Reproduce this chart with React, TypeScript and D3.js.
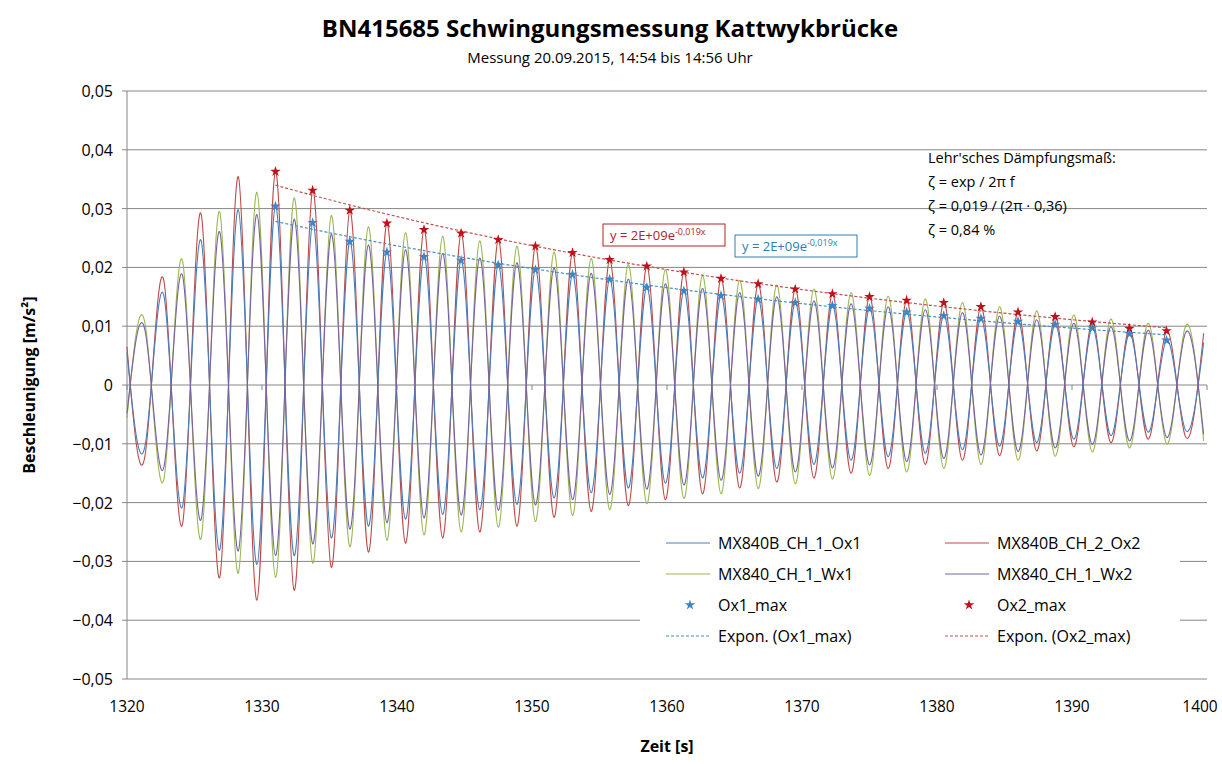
import React, { useRef, useEffect } from 'react';
import * as d3 from 'd3';

// extrema of each channel, one every half period (1.375 s) starting at 1320 s
const halfPeriod = 1.375;
const startTime = 1320;
const ox2Extrema = [0.0065, -0.0114, 0.0175, -0.0235, 0.029, -0.0327, 0.0354, -0.0366, 0.0363, -0.0349,
  0.0331, -0.031, 0.0297, -0.0284, 0.0275, -0.0269, 0.0264, -0.026, 0.0258, -0.025,
  0.0247, -0.024, 0.0236, -0.0225, 0.0225, -0.0215, 0.0213, -0.0205, 0.0202, -0.0195,
  0.0192, -0.0185, 0.0181, -0.0175, 0.0172, -0.0165, 0.0163, -0.0158, 0.0155, -0.015,
  0.015, -0.0142, 0.0144, -0.0135, 0.014, -0.0128, 0.0133, -0.012, 0.0124, -0.0112,
  0.0116, -0.0105, 0.0107, -0.0098, 0.0096, -0.0092, 0.0092, -0.0086, 0.0088];
const ox1Extrema = [0.0055, -0.0098, 0.015, -0.0205, 0.0245, -0.028, 0.0298, -0.0305, 0.0304, -0.029,
  0.0276, -0.026, 0.0244, -0.024, 0.0226, -0.0228, 0.0218, -0.022, 0.0212, -0.0212,
  0.0204, -0.0203, 0.0196, -0.0192, 0.0188, -0.0183, 0.018, -0.0175, 0.0166, -0.0167,
  0.016, -0.0158, 0.0152, -0.015, 0.0146, -0.0142, 0.014, -0.0135, 0.0135, -0.0128,
  0.013, -0.0122, 0.0124, -0.0116, 0.0118, -0.011, 0.0113, -0.0104, 0.0108, -0.0098,
  0.0103, -0.0092, 0.0097, -0.0086, 0.0087, -0.008, 0.0076, -0.0075, 0.0072];
const wx1Extrema = [-0.0056, 0.0099, -0.0158, 0.021, -0.026, 0.0294, -0.032, 0.0328, -0.0327, 0.0318,
  -0.0303, 0.0288, -0.0275, 0.0269, -0.0264, 0.0259, -0.0255, 0.0253, -0.025, 0.0245,
  -0.0242, 0.0236, -0.0232, 0.0226, -0.0222, 0.0215, -0.0212, 0.0205, -0.0202, 0.0196,
  -0.0193, 0.0186, -0.0185, 0.0178, -0.0176, 0.017, -0.0168, 0.0163, -0.016, 0.0157,
  -0.0154, 0.0151, -0.0148, 0.0146, -0.0142, 0.014, -0.0135, 0.0133, -0.0128, 0.0126,
  -0.0121, 0.0119, -0.0114, 0.0112, -0.0107, 0.0105, -0.01, 0.0098, -0.0095];
const wx2Extrema = [-0.0048, 0.0088, -0.0138, 0.0185, -0.0228, 0.026, -0.0282, 0.029, -0.029, 0.0282,
  -0.027, 0.0256, -0.0245, 0.0238, -0.0234, 0.023, -0.0226, 0.0224, -0.0221, 0.0216,
  -0.0213, 0.0208, -0.0204, 0.0199, -0.0195, 0.019, -0.0186, 0.018, -0.0177, 0.0172,
  -0.017, 0.0164, -0.0162, 0.0157, -0.0155, 0.015, -0.0148, 0.0143, -0.0141, 0.0138,
  -0.0136, 0.0133, -0.013, 0.0128, -0.0125, 0.0123, -0.0119, 0.0117, -0.0113, 0.0111,
  -0.0107, 0.0105, -0.0101, 0.0099, -0.0095, 0.0093, -0.0089, 0.0087, -0.0084];

// scatter series of maxima
const maxTimes = [1331.0, 1333.75, 1336.5, 1339.25, 1342.0, 1344.75, 1347.5, 1350.25, 1353.0, 1355.75,
  1358.5, 1361.25, 1364.0, 1366.75, 1369.5, 1372.25, 1375.0, 1377.75, 1380.5, 1383.25,
  1386.0, 1388.75, 1391.5, 1394.25, 1397.0];
const ox2Max = [0.0363, 0.0331, 0.0297, 0.0275, 0.0264, 0.0258, 0.0247, 0.0236, 0.0225, 0.0213,
  0.0202, 0.0192, 0.0181, 0.0172, 0.0163, 0.0155, 0.015, 0.0144, 0.014, 0.0133,
  0.0124, 0.0116, 0.0107, 0.0096, 0.0092];
const ox1Max = [0.0304, 0.0276, 0.0244, 0.0226, 0.0218, 0.0212, 0.0204, 0.0196, 0.0188, 0.018,
  0.0166, 0.016, 0.0152, 0.0146, 0.014, 0.0135, 0.013, 0.0124, 0.0118, 0.0113,
  0.0108, 0.0103, 0.0097, 0.0087, 0.0076];

const yTicks = [0.05, 0.04, 0.03, 0.02, 0.01, 0, -0.01, -0.02, -0.03, -0.04, -0.05];
const xTicks = [1320, 1330, 1340, 1350, 1360, 1370, 1380, 1390, 1400];

const colors = { ox1: '#4a7ebb', ox2: '#be4b48', wx1: '#98b954', wx2: '#7d60a0' };
const font = "'Open Sans', 'DejaVu Sans', sans-serif";

const App: React.FC = () => {
  const svgRef = useRef<SVGSVGElement | null>(null);
  const width = 1222, height = 764;

  useEffect(() => {
    if (!svgRef.current) return;
    const svg = d3.select(svgRef.current);
    svg.selectAll('*').remove();

    const x = d3.scaleLinear().domain([1320, 1400]).range([127, 1207]);
    const y = d3.scaleLinear().domain([-0.05, 0.05]).range([679, 91]);
    const fmt = (v: number) => (v === 0 ? '0' : d3.format('.2f')(v).replace('.', ','));

    svg.append('rect').attr('width', width).attr('height', height).attr('fill', 'white');

    // gridlines
    svg.append('g').selectAll('line').data(yTicks).join('line')
      .attr('x1', 127).attr('x2', 1207).attr('y1', d => y(d)).attr('y2', d => y(d))
      .attr('stroke', '#868686').attr('stroke-width', 1);
    svg.append('line').attr('x1', 127).attr('x2', 127).attr('y1', 91).attr('y2', 679)
      .attr('stroke', '#868686');

    // y axis ticks and labels
    svg.append('g').selectAll('line').data(yTicks).join('line')
      .attr('x1', 122).attr('x2', 127).attr('y1', d => y(d)).attr('y2', d => y(d)).attr('stroke', '#868686');
    svg.append('g').selectAll('text').data(yTicks).join('text')
      .attr('x', 113).attr('y', d => y(d) + 6).attr('text-anchor', 'end')
      .attr('font-family', font).attr('font-size', 16).text(d => fmt(d));

    // x axis ticks at the zero line, labels at the bottom
    svg.append('g').selectAll('line').data(xTicks).join('line')
      .attr('x1', d => x(d)).attr('x2', d => x(d)).attr('y1', y(0)).attr('y2', y(0) + 5).attr('stroke', '#868686');
    svg.append('g').selectAll('text').data(xTicks).join('text')
      .attr('x', d => Math.min(x(d), 1200)).attr('y', 712).attr('text-anchor', 'middle')
      .attr('font-family', font).attr('font-size', 15.5).text(d => String(d));

    // waveforms
    const line = d3.line<number>()
      .x((_, i) => x(Math.min(1400, startTime + i * halfPeriod)))
      .y(d => y(d))
      .curve(d3.curveNatural);
    const series: [number[], string][] = [
      [wx1Extrema, colors.wx1], [ox2Extrema, colors.ox2], [ox1Extrema, colors.ox1], [wx2Extrema, colors.wx2],
    ];
    series.forEach(([data, c]) => {
      svg.append('path').attr('d', line(data)).attr('fill', 'none')
        .attr('stroke', c).attr('stroke-width', 1.1);
    });

    // exponential trendlines (log-linear regression)
    const expFit = (vals: number[]) => {
      const mx = d3.mean(maxTimes)!;
      const ly = vals.map(Math.log);
      const my = d3.mean(ly)!;
      const b = d3.sum(maxTimes, (t, i) => (t - mx) * (ly[i] - my)) / d3.sum(maxTimes, t => (t - mx) ** 2);
      const a = my - b * mx;
      return (t: number) => Math.exp(a + b * t);
    };
    const trend = (vals: number[], c: string) => {
      const f = expFit(vals);
      const ts = d3.range(maxTimes[0], maxTimes[maxTimes.length - 1] + 0.01, 0.5);
      svg.append('path')
        .attr('d', d3.line<number>().x(t => x(t)).y(t => y(f(t)))(ts))
        .attr('fill', 'none').attr('stroke', c).attr('stroke-width', 1.2).attr('stroke-dasharray', '3,2');
    };
    trend(ox2Max, '#c0504d');
    trend(ox1Max, '#4a8fc4');

    const star = d3.symbol().type(d3.symbolStar).size(34);
    svg.append('g').selectAll('path').data(ox2Max).join('path')
      .attr('d', star).attr('transform', (d, i) => `translate(${x(maxTimes[i])},${y(d)})`).attr('fill', '#c0101a');
    svg.append('g').selectAll('path').data(ox1Max).join('path')
      .attr('d', star).attr('transform', (d, i) => `translate(${x(maxTimes[i])},${y(d)})`).attr('fill', '#3b86c6');

    // trendline equation labels
    const eqBox = (bx: number, by: number, c: string) => {
      svg.append('rect').attr('x', bx).attr('y', by).attr('width', 122).attr('height', 22)
        .attr('fill', 'white').attr('stroke', c);
      const t = svg.append('text').attr('x', bx + 7).attr('y', by + 16).attr('fill', c)
        .attr('font-family', font).attr('font-size', 13);
      t.append('tspan').text('y = 2E+09e');
      t.append('tspan').attr('dy', -5).attr('font-size', 9).text('-0,019x');
    };
    eqBox(603, 224, '#b22222');
    eqBox(735, 235, '#2e7fb0');

    // damping annotation
    const ann = ["Lehr'sches Dämpfungsmaß:", 'ζ = exp / 2π f', 'ζ = 0,019 / (2π · 0,36)', 'ζ = 0,84 %'];
    svg.append('g').selectAll('text').data(ann).join('text')
      .attr('x', 928).attr('y', (_, i) => 163 + i * 24)
      .attr('font-family', font).attr('font-size', 14.5).text(d => d);

    // legend
    const legend = [
      { label: 'MX840B_CH_1_Ox1', c: colors.ox1, kind: 'line' },
      { label: 'MX840B_CH_2_Ox2', c: colors.ox2, kind: 'line' },
      { label: 'MX840_CH_1_Wx1', c: colors.wx1, kind: 'line' },
      { label: 'MX840_CH_1_Wx2', c: colors.wx2, kind: 'line' },
      { label: 'Ox1_max', c: '#3b86c6', kind: 'star' },
      { label: 'Ox2_max', c: '#c0101a', kind: 'star' },
      { label: 'Expon. (Ox1_max)', c: '#4a8fc4', kind: 'dash' },
      { label: 'Expon. (Ox2_max)', c: '#c0504d', kind: 'dash' },
    ];
    svg.append('rect').attr('x', 640).attr('y', 527).attr('width', 540).attr('height', 128).attr('fill', 'white');
    legend.forEach((d, i) => {
      const lx = i % 2 === 0 ? 666 : 945;
      const ly = 543 + Math.floor(i / 2) * 31;
      if (d.kind === 'star') {
        svg.append('path').attr('d', star).attr('transform', `translate(${lx + 24},${ly})`).attr('fill', d.c);
      } else {
        svg.append('line').attr('x1', lx).attr('x2', lx + 44).attr('y1', ly).attr('y2', ly)
          .attr('stroke', d.c).attr('stroke-width', 1.2)
          .attr('stroke-dasharray', d.kind === 'dash' ? '3,2' : null);
      }
      svg.append('text').attr('x', lx + 52).attr('y', ly + 6)
        .attr('font-family', font).attr('font-size', 16).text(d.label);
    });

    // titles
    svg.append('text').attr('x', 610).attr('y', 37).attr('text-anchor', 'middle')
      .attr('font-family', font).attr('font-size', 24).attr('font-weight', 'bold')
      .text('BN415685 Schwingungsmessung Kattwykbrücke');
    svg.append('text').attr('x', 610).attr('y', 63).attr('text-anchor', 'middle')
      .attr('font-family', font).attr('font-size', 15)
      .text('Messung 20.09.2015, 14:54 bis 14:56 Uhr');
    svg.append('text').attr('x', 667).attr('y', 752).attr('text-anchor', 'middle')
      .attr('font-family', font).attr('font-size', 16).attr('font-weight', 'bold').text('Zeit [s]');
    svg.append('text').attr('transform', 'translate(35,385) rotate(-90)').attr('text-anchor', 'middle')
      .attr('font-family', font).attr('font-size', 16).attr('font-weight', 'bold')
      .text('Beschleunigung  [m/s²]');
  }, []);

  return (
    <svg ref={svgRef} width={width} height={height}
      style={{ display: 'block', position: 'absolute', left: 0, top: 0 }} />
  );
};

export default App;
